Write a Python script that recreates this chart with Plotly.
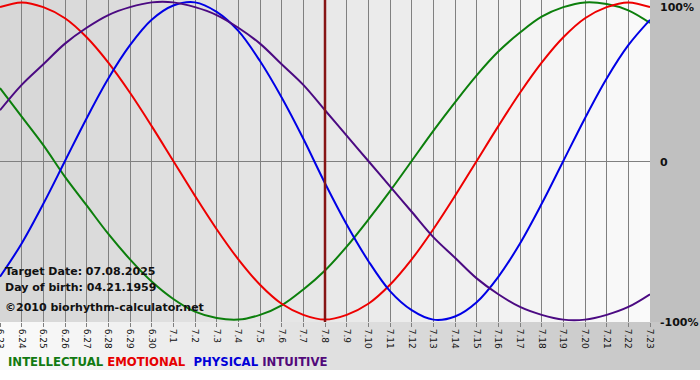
import plotly.graph_objects as go

# ---- data ----
dates = ["6.23", "6.24", "6.25", "6.26", "6.27", "6.28", "6.29", "6.30",
         "7.1", "7.2", "7.3", "7.4", "7.5", "7.6", "7.7", "7.8", "7.9", "7.10",
         "7.11", "7.12", "7.13", "7.14", "7.15", "7.16", "7.17", "7.18", "7.19",
         "7.20", "7.21", "7.22", "7.23"]

intellectual = [0.46, 0.28, 0.10, -0.10, -0.28, -0.46, -0.62, -0.76, -0.87, -0.95,
                -0.99, -1.00, -0.97, -0.91, -0.81, -0.69, -0.54, -0.37, -0.19, 0.00,
                0.19, 0.37, 0.54, 0.69, 0.81, 0.91, 0.97, 1.00, 0.99, 0.95, 0.87]
emotional = [0.97, 1.00, 0.97, 0.90, 0.78, 0.62, 0.43, 0.22, 0.00, -0.22,
             -0.43, -0.62, -0.78, -0.90, -0.97, -1.00, -0.97, -0.90, -0.78, -0.62,
             -0.43, -0.22, 0.00, 0.22, 0.43, 0.62, 0.78, 0.90, 0.97, 1.00, 0.97]
physical = [-0.73, -0.52, -0.27, 0.00, 0.27, 0.52, 0.73, 0.89, 0.98, 1.00,
            0.94, 0.82, 0.63, 0.40, 0.14, -0.14, -0.40, -0.63, -0.82, -0.94,
            -1.00, -0.98, -0.89, -0.73, -0.52, -0.27, 0.00, 0.27, 0.52, 0.73, 0.89]
intuitive = [0.32, 0.48, 0.61, 0.74, 0.84, 0.92, 0.97, 1.00, 1.00, 0.97,
             0.92, 0.84, 0.74, 0.61, 0.48, 0.32, 0.16, 0.00, -0.16, -0.32,
             -0.48, -0.61, -0.74, -0.84, -0.92, -0.97, -1.00, -1.00, -0.97, -0.92, -0.84]

target_date = "7.8"
target_text = "Target Date: 07.08.2025"
birth_text = "Day of birth: 04.21.1959"
credit_text = "\u00a92010 biorhythm-calculator.net"
y_tickvals = [1, 0, -1]
y_ticktext = ["100%", "0", "-100%"]

series = [
    ("INTELLECTUAL", intellectual, "#0c7f0c"),
    ("EMOTIONAL", emotional, "#ee0000"),
    ("PHYSICAL", physical, "#0000e6"),
    ("INTUITIVE", intuitive, "#4b0a82"),
]
legend_colors = {"INTELLECTUAL": "#127a12", "EMOTIONAL": "#e60000",
                 "PHYSICAL": "#0000d8", "INTUITIVE": "#520a7a"}

W, H = 700, 380
L, R, T, B = 0, 50, 0, 58
PW, PH = W - L - R, H - T - B

fig = go.Figure()
for name, vals, col in series:
    fig.add_trace(go.Scatter(x=dates, y=vals, mode="lines", name=name,
                             line=dict(color=col, width=2, shape="spline"),
                             showlegend=False, hoverinfo="skip"))

shapes = []
# plot-area gradient (grey -> near white)
n = 65
for j in range(n):
    c = int(round(214 + (250 - 214) * j / (n - 1)))
    shapes.append(dict(type="rect", xref="paper", yref="paper",
                       x0=j / n, x1=(j + 1) / n + 0.002, y0=0, y1=1,
                       fillcolor=f"rgb({c},{c},{c})", line=dict(width=0), layer="below"))
# right strip
shapes.append(dict(type="rect", xref="paper", yref="paper",
                   x0=1, x1=W / PW + 0.01, y0=0, y1=1.01,
                   fillcolor="rgb(192,192,192)", line=dict(width=0), layer="below"))
# bottom band gradient (white -> grey)
yb0 = -(370 - PH) / PH
m = 70
for j in range(m):
    c = int(round(250 - (250 - 196) * j / (m - 1)))
    shapes.append(dict(type="rect", xref="paper", yref="paper",
                       x0=j * (W / PW) / m, x1=(j + 1) * (W / PW) / m + 0.002,
                       y0=yb0, y1=0,
                       fillcolor=f"rgb({c},{c},{c})", line=dict(width=0), layer="below"))
# target date marker
ti = dates.index(target_date)
shapes.append(dict(type="line", xref="x", yref="paper", x0=ti, x1=ti, y0=0, y1=1,
                   line=dict(color="#861515", width=2.5), layer="above"))

txt_font = dict(family="DejaVu Sans", size=11, color="#111111", weight="bold")
annotations = [
    dict(text=target_text, x=3 / PW, y=1 - 271 / PH),
    dict(text=birth_text, x=3 / PW, y=1 - 287 / PH),
    dict(text=credit_text, x=3 / PW, y=1 - 307 / PH),
]
for a in annotations:
    a.update(xref="paper", yref="paper", xanchor="left", yanchor="middle",
             showarrow=False, font=txt_font)

# right-hand value labels (kept inside the frame like the reference)
yshifts = {1: -5, 0: -1, -1: -3}
for v, t in zip(y_tickvals, y_ticktext):
    annotations.append(dict(text=t, xref="paper", yref="y", x=1 + 8 / PW, y=v,
                            yshift=yshifts[v], xanchor="left", yanchor="middle",
                            showarrow=False, font=txt_font))

legend_html = "&nbsp;".join(
    f'<span style="color:{legend_colors[nm]}">{nm}</span>' + ("&nbsp;" if nm == "EMOTIONAL" else "")
    for nm, _, _ in series)
annotations.append(dict(text=legend_html, xref="paper", yref="paper",
                        x=6 / PW, y=(PH - 362) / PH, xanchor="left", yanchor="middle",
                        showarrow=False,
                        font=dict(family="DejaVu Sans", size=11.7, weight="bold")))

fig.update_layout(
    width=W, height=H,
    margin=dict(l=L, r=R, t=T, b=B, pad=0, autoexpand=False),
    paper_bgcolor="white",
    plot_bgcolor="rgb(230,230,230)",
    shapes=shapes,
    annotations=annotations,
    showlegend=False,
    xaxis=dict(type="category", range=[0, len(dates) - 1], automargin=False,
               showgrid=True, gridcolor="#808080", gridwidth=1,
               ticks="outside", ticklen=4, tickcolor="#808080",
               tickangle=90, tickfont=dict(family="DejaVu Sans", size=9, color="#111111"),
               showline=False, zeroline=False, fixedrange=True),
    yaxis=dict(range=[-1.015, 1.015], side="right", automargin=False,
               tickvals=y_tickvals, showticklabels=False,
               showgrid=False, zeroline=True, zerolinecolor="#808080", zerolinewidth=1,
               ticks="", showline=False, fixedrange=True),
)

fig.write_html("out.html",
               config={"displayModeBar": False, "staticPlot": True},
               post_script="document.body.style.margin='0';document.body.style.overflow='hidden';")
